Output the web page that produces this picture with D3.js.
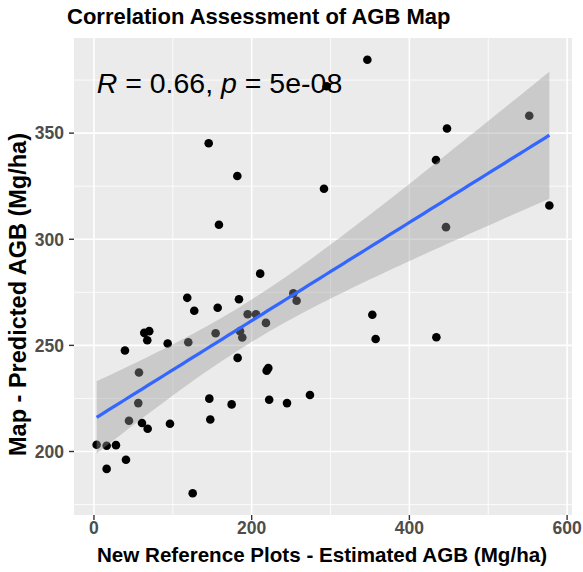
<!DOCTYPE html>
<html lang="en">
<head>
  <meta charset="UTF-8">
  <title>Correlation Assessment of AGB Map</title>
  <script src="https://d3js.org/d3.v7.min.js"></script>
  <style>
    body { margin: 0; background: #fff; }
    svg { font-family: "Liberation Sans", Arial, sans-serif; display: block; }
    .tick-label { fill: #4D4D4D; font-weight: bold; font-size: 17.5px; }
    .axis-title { fill: #000; font-weight: bold; }
  </style>
</head>
<body>
  <svg id="chart" width="583" height="572"></svg>
  <script>
    // Reference plot estimates (x) vs map predictions (y), Mg/ha
    const refAGB = [
      145.5, 181.8, 158.5, 346.7, 295.1, 552.0, 447.7, 433.7, 291.7, 577.5,
      446.4, 210.8, 252.8, 257.0, 205.5, 218.1, 353.0, 357.2, 434.2, 221.1,
      219.0, 222.2, 244.8, 273.9, 118.3, 183.9, 127.2, 156.9, 194.9, 63.8,
      70.1, 67.6, 93.5, 119.6, 154.3, 185.2, 188.1, 182.2, 39.3, 57.1,
      56.2, 146.3, 174.6, 44.4, 60.9, 68.1, 96.4, 147.5, 3.4, 16.1,
      27.9, 40.6, 16.1, 125.2
    ];
    const mapAGB = [
      345.2, 329.8, 306.8, 384.6, 372.1, 358.2, 352.2, 337.3, 323.8, 315.9,
      305.7, 283.8, 274.5, 271.0, 264.7, 260.6, 264.4, 253.0, 253.8, 239.3,
      238.1, 224.4, 222.8, 226.6, 272.4, 271.7, 266.3, 267.7, 264.7, 255.9,
      256.7, 252.4, 250.9, 251.5, 255.7, 256.7, 253.7, 244.1, 247.6, 237.2,
      222.8, 224.9, 222.2, 214.5, 213.4, 210.7, 213.1, 215.1, 203.2, 202.7,
      203.0, 196.1, 191.8, 180.3
    ];
    const xTicks = [0, 200, 400, 600];
    const xMinor = [100, 300, 500];
    const yTicks = [200, 250, 300, 350];
    const yMinor = [175, 225, 275, 325, 375];
    const corLabel = { r: "0.66", p: "5e-08" };

    const svg = d3.select("#chart");
    const panel = { left: 74, right: 572, top: 38, bottom: 515 };

    const points = refAGB.map((x, i) => ({ x: x, y: mapAGB[i] }));

    // Least squares fit with 95% confidence band (like geom_smooth(method = "lm"))
    const n = points.length;
    const xbar = d3.mean(refAGB), ybar = d3.mean(mapAGB);
    const sxx = d3.sum(refAGB, x => (x - xbar) ** 2);
    const sxy = d3.sum(points, d => (d.x - xbar) * (d.y - ybar));
    const slope = sxy / sxx;
    const intercept = ybar - slope * xbar;
    const sse = d3.sum(points, d => (d.y - intercept - slope * d.x) ** 2);
    const s = Math.sqrt(sse / (n - 2));
    const tq = 2.0066; // qt(0.975, 52)
    const [x0, x1] = d3.extent(refAGB);
    const fit = d3.range(80).map(i => {
      const x = x0 + (x1 - x0) * i / 79;
      const yhat = intercept + slope * x;
      const se = s * Math.sqrt(1 / n + (x - xbar) ** 2 / sxx);
      return { x: x, y: yhat, lo: yhat - tq * se, hi: yhat + tq * se };
    });

    // Scales with ggplot's 5% expansion
    const xr = x1 - x0;
    const x = d3.scaleLinear()
      .domain([x0 - 0.05 * xr, x1 + 0.05 * xr])
      .range([panel.left, panel.right]);
    const yLo = Math.min(d3.min(mapAGB), d3.min(fit, d => d.lo));
    const yHi = Math.max(d3.max(mapAGB), d3.max(fit, d => d.hi));
    const yr = yHi - yLo;
    const y = d3.scaleLinear()
      .domain([yLo - 0.05 * yr, yHi + 0.05 * yr])
      .range([panel.bottom, panel.top]);

    // Panel background and grid
    svg.append("rect")
      .attr("x", panel.left).attr("y", panel.top)
      .attr("width", panel.right - panel.left)
      .attr("height", panel.bottom - panel.top)
      .attr("fill", "#EBEBEB");

    const grid = svg.append("g").attr("stroke", "#fff");
    grid.selectAll(".vminor").data(xMinor).join("line")
      .attr("x1", d => x(d)).attr("x2", d => x(d))
      .attr("y1", panel.top).attr("y2", panel.bottom)
      .attr("stroke-width", 0.8);
    grid.selectAll(".hminor").data(yMinor).join("line")
      .attr("x1", panel.left).attr("x2", panel.right)
      .attr("y1", d => y(d)).attr("y2", d => y(d))
      .attr("stroke-width", 0.8);
    grid.selectAll(".vmajor").data(xTicks).join("line")
      .attr("x1", d => x(d)).attr("x2", d => x(d))
      .attr("y1", panel.top).attr("y2", panel.bottom)
      .attr("stroke-width", 1.6);
    grid.selectAll(".hmajor").data(yTicks).join("line")
      .attr("x1", panel.left).attr("x2", panel.right)
      .attr("y1", d => y(d)).attr("y2", d => y(d))
      .attr("stroke-width", 1.6);

    // Points (drawn first so the ribbon greys them)
    svg.append("g")
      .selectAll("circle")
      .data(points)
      .join("circle")
        .attr("cx", d => x(d.x))
        .attr("cy", d => y(d.y))
        .attr("r", 4.3)
        .attr("fill", "#000");

    // Confidence ribbon and fitted line
    svg.append("path")
      .datum(fit)
      .attr("fill", "#999999")
      .attr("fill-opacity", 0.4)
      .attr("d", d3.area().x(d => x(d.x)).y0(d => y(d.lo)).y1(d => y(d.hi)));

    svg.append("path")
      .datum(fit)
      .attr("fill", "none")
      .attr("stroke", "#3366FF")
      .attr("stroke-width", 3.2)
      .attr("d", d3.line().x(d => x(d.x)).y(d => y(d.y)));

    // Correlation label (top-left, like stat_cor)
    const cor = svg.append("text")
      .attr("x", x(x0))
      .attr("y", 93)
      .attr("font-size", 28.5)
      .attr("fill", "#000");
    cor.append("tspan").attr("font-style", "italic").text("R");
    cor.append("tspan").text(` = ${corLabel.r}, `);
    cor.append("tspan").attr("font-style", "italic").text("p");
    cor.append("tspan").text(` = ${corLabel.p}`);

    // Axes ticks and labels
    const axisG = svg.append("g");
    axisG.selectAll(".xt").data(xTicks).join("line")
      .attr("x1", d => x(d)).attr("x2", d => x(d))
      .attr("y1", panel.bottom).attr("y2", panel.bottom + 5)
      .attr("stroke", "#333").attr("stroke-width", 1.4);
    axisG.selectAll(".xl").data(xTicks).join("text")
      .attr("class", "tick-label")
      .attr("x", d => x(d)).attr("y", 534)
      .attr("text-anchor", "middle")
      .text(d => d);
    axisG.selectAll(".yt").data(yTicks).join("line")
      .attr("x1", panel.left - 5).attr("x2", panel.left)
      .attr("y1", d => y(d)).attr("y2", d => y(d))
      .attr("stroke", "#333").attr("stroke-width", 1.4);
    axisG.selectAll(".yl").data(yTicks).join("text")
      .attr("class", "tick-label")
      .attr("x", 64).attr("y", d => y(d))
      .attr("dy", "0.36em")
      .attr("text-anchor", "end")
      .text(d => d);

    // Titles
    svg.append("text")
      .attr("class", "axis-title")
      .attr("x", 67).attr("y", 24)
      .attr("font-size", 22)
      .text("Correlation Assessment of AGB Map");

    svg.append("text")
      .attr("class", "axis-title")
      .attr("x", 322).attr("y", 562)
      .attr("text-anchor", "middle")
      .attr("font-size", 20.6)
      .text("New Reference Plots - Estimated AGB (Mg/ha)");

    svg.append("text")
      .attr("class", "axis-title")
      .attr("transform", `translate(26,${(panel.top + panel.bottom) / 2 + 18}) rotate(-90)`)
      .attr("text-anchor", "middle")
      .attr("font-size", 23.5)
      .text("Map - Predicted AGB (Mg/ha)");
  </script>
</body>
</html>
